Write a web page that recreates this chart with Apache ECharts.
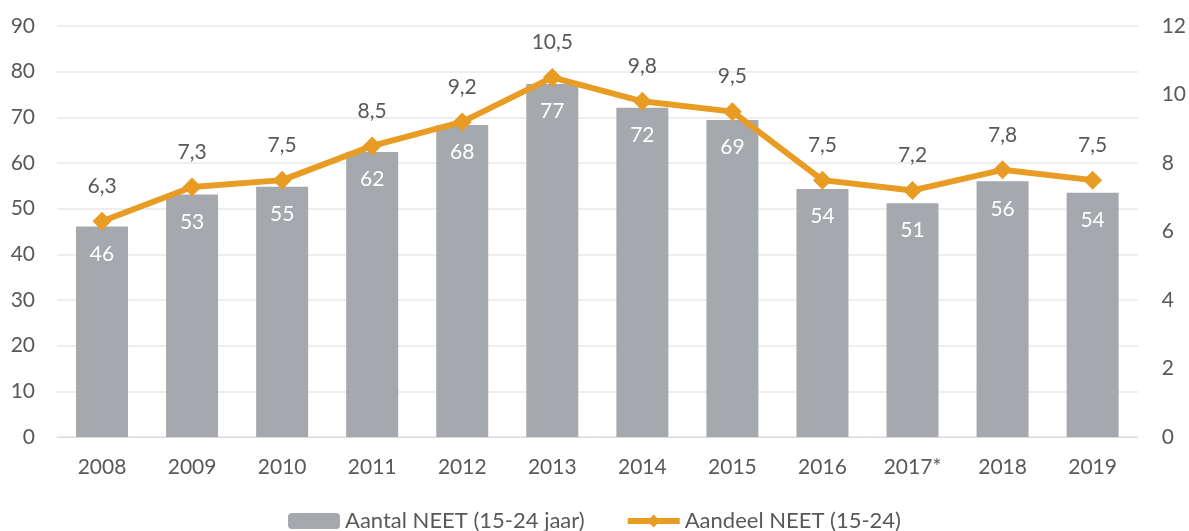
<!DOCTYPE html>
<html>
<head>
<meta charset="utf-8">
<script src="https://cdn.jsdelivr.net/npm/echarts@6/dist/echarts.min.js"></script>
<style>
  html, body { margin: 0; padding: 0; background: #fff; }
  #chart { width: 1189px; height: 531px; }
</style>
</head>
<body>
<div id="chart"></div>
<script>
  var years = ['2008', '2009', '2010', '2011', '2012', '2013', '2014', '2015', '2016', '2017*', '2018', '2019'];
  // aantal NEET x 1000 (bars, left axis)
  var aantal = [46.1, 53.1, 54.8, 62.4, 68.3, 77.3, 72.1, 69.4, 54.3, 51.2, 56.0, 53.5];
  // aandeel NEET in % (line, right axis)
  var aandeel = [6.3, 7.3, 7.5, 8.5, 9.2, 10.5, 9.8, 9.5, 7.5, 7.2, 7.8, 7.5];

  var textColor = '#595959';
  var orange = '#e89c23';
  var font = 'Lato';

  var chart = echarts.init(document.getElementById('chart'));
  chart.setOption({
    animation: false,
    textStyle: { fontFamily: font },
    grid: { left: 57, right: 51, top: 26, bottom: 94 },
    legend: {
      bottom: -6,
      left: 'center',
      itemGap: 40,
      itemWidth: 52,
      itemHeight: 16,
      textStyle: { color: textColor, fontSize: 22, fontFamily: font },
      data: [
        { name: 'Aantal NEET (15-24 jaar)' },
        { name: 'Aandeel NEET (15-24)', lineStyle: { width: 6, color: orange } }
      ]
    },
    xAxis: {
      type: 'category',
      data: years,
      axisLine: { lineStyle: { color: '#d9d9d9', width: 1 } },
      axisTick: { show: false },
      axisLabel: { color: textColor, fontSize: 21, margin: 20 }
    },
    yAxis: [
      {
        type: 'value',
        min: 0, max: 90, interval: 10,
        axisLine: { show: false },
        axisTick: { show: false },
        axisLabel: { color: textColor, fontSize: 21, margin: 22 },
        splitLine: { lineStyle: { color: '#e8e8e8', width: 1.5 } }
      },
      {
        type: 'value',
        min: 0, max: 12, interval: 2,
        axisLine: { show: false },
        axisTick: { show: false },
        axisLabel: { color: textColor, fontSize: 21, margin: 24 },
        splitLine: { show: false }
      }
    ],
    series: [
      {
        name: 'Aantal NEET (15-24 jaar)',
        type: 'bar',
        data: aantal,
        barWidth: 52,
        itemStyle: { color: '#a5a8ac' },
        label: {
          show: true,
          position: 'insideTop',
          distance: 17,
          color: '#fff',
          fontSize: 21,
          formatter: function (p) { return Math.round(p.value); }
        }
      },
      {
        name: 'Aandeel NEET (15-24)',
        type: 'line',
        yAxisIndex: 1,
        data: aandeel,
        symbol: 'diamond',
        symbolSize: 19,
        lineStyle: { color: orange, width: 6 },
        itemStyle: { color: orange },
        label: {
          show: true,
          position: 'top',
          distance: 15,
          color: textColor,
          fontSize: 21,
          formatter: function (p) { return p.value.toFixed(1).replace('.', ','); }
        }
      }
    ]
  });
</script>
</body>
</html>
